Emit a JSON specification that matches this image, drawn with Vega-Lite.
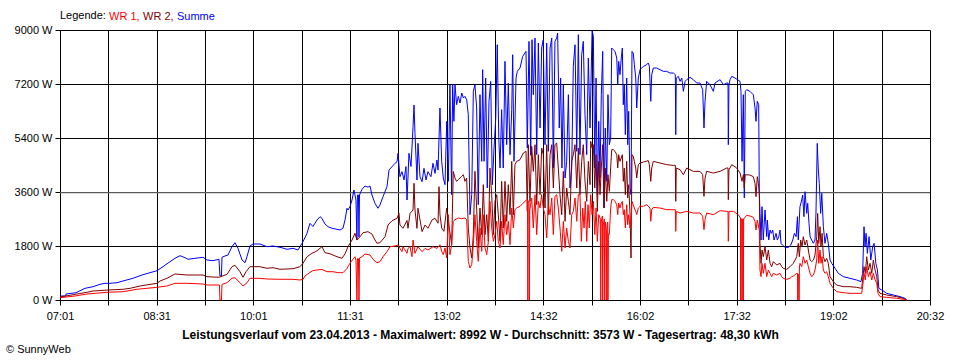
{
  "$schema": "https://vega.github.io/schema/vega-lite/v6.json",
  "width": 870,
  "height": 270,
  "autosize": {"type": "none"},
  "padding": {"left": 60, "top": 30, "right": 30, "bottom": 60},
  "background": "white",
  "title": {"text": "© SunnyWeb", "orient": "bottom", "anchor": "start", "frame": "group", "dx": -54, "offset": 4, "fontSize": 11, "fontWeight": "normal", "font": "Liberation Sans", "color": "black"},
  "config": {
    "view": {"stroke": null},
    "axis": {"gridColor": "black", "gridOpacity": 1, "gridWidth": 1, "domainColor": "black", "tickColor": "black", "tickSize": 5, "labelColor": "black", "labelFont": "Liberation Sans", "labelFontSize": 11, "labelPadding": 3}
  },
  "datasets": {
    "wr1": [
      {"m":421,"w":77},{"m":435,"w":133},{"m":446.2,"w":200},{"m":464.8,"w":257},{"m":479.7,"w":277},{"m":492.8,"w":357},{"m":511.4,"w":423},{"m":520.7,"w":467},{"m":528.2,"w":556},{"m":539.4,"w":556},{"m":554.3,"w":533},{"m":558,"w":500},{"m":569.6,"w":500},{"m":570.1,"w":0},{"m":571.5,"w":0},{"m":572,"w":520},{"m":576.7,"w":577},{"m":581.3,"w":723},{"m":584.1,"w":743},{"m":588.8,"w":577},{"m":591.6,"w":467},{"m":595.3,"w":577},{"m":598.1,"w":723},{"m":607.4,"w":723},{"m":614,"w":700},{"m":626.1,"w":690},{"m":638.2,"w":690},{"m":644.7,"w":667},{"m":647.5,"w":690},{"m":649.4,"w":800},{"m":651.3,"w":850},{"m":654,"w":920},{"m":656.8,"w":980},{"m":660.6,"w":1000},{"m":665.2,"w":1020},{"m":669.9,"w":943},{"m":675.5,"w":943},{"m":680.1,"w":910},{"m":684.8,"w":910},{"m":688.5,"w":1050},{"m":691.3,"w":1223},{"m":694.1,"w":1357},{"m":696,"w":1443},{"m":696.9,"w":1330},{"m":697.8,"w":0},{"m":698.3,"w":1380},{"m":699.2,"w":1380},{"m":699.7,"w":0},{"m":700.2,"w":1400},{"m":702.5,"w":1443},{"m":705.3,"w":1533},{"m":710,"w":1500},{"m":712.8,"w":1357},{"m":716.5,"w":1243},{"m":719.3,"w":1277},{"m":722.1,"w":1443},{"m":725.8,"w":1610},{"m":728.6,"w":1777},{"m":733.3,"w":1800},{"m":736.1,"w":1833},{"m":737.9,"w":1720},{"m":739.8,"w":1610},{"m":740.7,"w":1777},{"m":744.5,"w":1557},{"m":745.4,"w":1720},{"m":747.3,"w":1777},{"m":749.1,"w":1443},{"m":750.1,"w":2000},{"m":751.9,"w":1557},{"m":754.7,"w":1777},{"m":758.5,"w":1610},{"m":761.3,"w":1720},{"m":764,"w":1667},{"m":768.7,"w":1777},{"m":772.4,"w":1720},{"m":775.2,"w":1844},{"m":776.8,"w":1622},{"m":778.3,"w":1511},{"m":779.9,"w":1733},{"m":781.5,"w":1400},{"m":783,"w":2844},{"m":784.5,"w":1511},{"m":786.1,"w":1844},{"m":787.6,"w":2622},{"m":789.2,"w":2678},{"m":792.3,"w":2733},{"m":795.5,"w":2711},{"m":798.5,"w":2733},{"m":800.1,"w":2678},{"m":801.6,"w":1289},{"m":803.2,"w":1066},{"m":804.8,"w":1178},{"m":806.3,"w":1844},{"m":807.8,"w":2844},{"m":809.4,"w":1955},{"m":810.9,"w":1289},{"m":812.5,"w":2400},{"m":814.1,"w":1622},{"m":815.6,"w":2844},{"m":817.2,"w":1733},{"m":818.8,"w":1511},{"m":820.3,"w":1955},{"m":821.8,"w":3288},{"m":823.4,"w":2400},{"m":825,"w":1955},{"m":826.5,"w":2178},{"m":828.1,"w":2622},{"m":829.6,"w":1955},{"m":831.2,"w":1733},{"m":832.7,"w":2622},{"m":834.2,"w":1844},{"m":835.8,"w":2844},{"m":837.4,"w":2178},{"m":838.9,"w":2622},{"m":840.5,"w":1844},{"m":842.1,"w":3066},{"m":843.6,"w":2400},{"m":845.1,"w":3011},{"m":846.7,"w":3066},{"m":849.8,"w":3122},{"m":852.9,"w":3233},{"m":856,"w":3344},{"m":856.8,"w":3344},{"m":857.1,"w":0},{"m":857.4,"w":3300},{"m":858.3,"w":3300},{"m":858.5,"w":0},{"m":858.9,"w":3000},{"m":860.7,"w":3400},{"m":862.2,"w":2400},{"m":863.8,"w":3511},{"m":865.4,"w":2178},{"m":866.9,"w":3288},{"m":868.5,"w":3066},{"m":870,"w":3511},{"m":871.5,"w":3066},{"m":873.1,"w":2844},{"m":874.7,"w":2066},{"m":876.2,"w":3178},{"m":877.8,"w":2844},{"m":879.4,"w":3400},{"m":880.9,"w":2178},{"m":882.4,"w":3455},{"m":884,"w":3511},{"m":885.5,"w":3066},{"m":887.1,"w":2400},{"m":888.7,"w":1622},{"m":890.2,"w":2622},{"m":891.8,"w":1733},{"m":893.3,"w":2400},{"m":894.9,"w":1955},{"m":896.4,"w":1733},{"m":898,"w":2844},{"m":899.5,"w":2955},{"m":901.1,"w":3400},{"m":902.7,"w":2622},{"m":904.2,"w":3511},{"m":905.7,"w":3511},{"m":907,"w":1955},{"m":908.3,"w":3066},{"m":909.5,"w":2400},{"m":910.7,"w":3288},{"m":912,"w":1955},{"m":913.2,"w":3178},{"m":914.4,"w":2400},{"m":915.7,"w":3511},{"m":917,"w":2844},{"m":918.2,"w":3288},{"m":919.5,"w":2178},{"m":920.7,"w":3066},{"m":921.9,"w":1955},{"m":923.2,"w":2844},{"m":924.7,"w":2700},{"m":925.1,"w":0},{"m":925.5,"w":2600},{"m":926.6,"w":2800},{"m":926.9,"w":0},{"m":927.4,"w":2500},{"m":928.4,"w":2700},{"m":928.8,"w":0},{"m":929.3,"w":2600},{"m":930.3,"w":2300},{"m":930.7,"w":0},{"m":931,"w":2500},{"m":931.6,"w":2600},{"m":931.8,"w":0},{"m":932.2,"w":2200},{"m":933.1,"w":2178},{"m":934.3,"w":3066},{"m":935.3,"w":3344},{"m":936.8,"w":3344},{"m":938.4,"w":3288},{"m":940,"w":3178},{"m":940.9,"w":2844},{"m":941.8,"w":3233},{"m":943,"w":3066},{"m":944.2,"w":3233},{"m":945.2,"w":3288},{"m":946.1,"w":2844},{"m":947,"w":3011},{"m":948,"w":2400},{"m":949.3,"w":3178},{"m":950.2,"w":2511},{"m":951.1,"w":2844},{"m":952.4,"w":2400},{"m":953.3,"w":2622},{"m":954.2,"w":3288},{"m":955.4,"w":3178},{"m":956.4,"w":3066},{"m":957.7,"w":2955},{"m":958.6,"w":2844},{"m":960.1,"w":3066},{"m":961.7,"w":3122},{"m":964.8,"w":3122},{"m":967.9,"w":3178},{"m":971,"w":3066},{"m":971.7,"w":2622},{"m":972.6,"w":3011},{"m":974.1,"w":3088},{"m":980.3,"w":3066},{"m":986.6,"w":3011},{"m":992.7,"w":3011},{"m":994.6,"w":3011},{"m":995,"w":2289},{"m":995.5,"w":2955},{"m":999,"w":2900},{"m":1005.2,"w":2955},{"m":1011.4,"w":2900},{"m":1017.6,"w":2900},{"m":1020.1,"w":2789},{"m":1021.3,"w":2344},{"m":1022.3,"w":2678},{"m":1023.8,"w":2900},{"m":1030,"w":2844},{"m":1036.3,"w":2978},{"m":1042.5,"w":2955},{"m":1043.7,"w":2955},{"m":1044,"w":1955},{"m":1044.6,"w":2955},{"m":1048.7,"w":2955},{"m":1053.3,"w":2844},{"m":1055.4,"w":2733},{"m":1055.5,"w":0},{"m":1055.9,"w":2700},{"m":1056.6,"w":2700},{"m":1056.8,"w":0},{"m":1057.1,"w":2700},{"m":1057.8,"w":2700},{"m":1058,"w":0},{"m":1058.3,"w":2700},{"m":1061.1,"w":2822},{"m":1064.2,"w":2800},{"m":1067.3,"w":2755},{"m":1068.9,"w":2611},{"m":1069.8,"w":2333},{"m":1071,"w":2666},{"m":1072.9,"w":2333},{"m":1073.5,"w":1000},{"m":1074.5,"w":778},{"m":1075.4,"w":1222},{"m":1076.6,"w":889},{"m":1078.2,"w":1222},{"m":1079.8,"w":778},{"m":1081.3,"w":1000},{"m":1082.9,"w":889},{"m":1084.4,"w":778},{"m":1086,"w":889},{"m":1089.1,"w":833},{"m":1092.2,"w":889},{"m":1093.8,"w":778},{"m":1095.3,"w":722},{"m":1098.5,"w":689},{"m":1101.5,"w":722},{"m":1103.1,"w":778},{"m":1104.6,"w":800},{"m":1107.8,"w":889},{"m":1108.5,"w":889},{"m":1108.7,"w":0},{"m":1109.2,"w":850},{"m":1109.7,"w":850},{"m":1109.9,"w":0},{"m":1110.3,"w":1100},{"m":1110.8,"w":1222},{"m":1112.4,"w":1111},{"m":1113.9,"w":1444},{"m":1115.5,"w":1222},{"m":1117.1,"w":1333},{"m":1118.6,"w":1111},{"m":1120.2,"w":889},{"m":1121.7,"w":778},{"m":1123.3,"w":833},{"m":1124.8,"w":1000},{"m":1126.4,"w":1333},{"m":1127.3,"w":2000},{"m":1128.3,"w":1222},{"m":1129.5,"w":1666},{"m":1130.4,"w":1222},{"m":1131.4,"w":1444},{"m":1132.6,"w":1000},{"m":1134.1,"w":889},{"m":1135.7,"w":944},{"m":1137.2,"w":778},{"m":1138.8,"w":555},{"m":1141.9,"w":389},{"m":1145,"w":278},{"m":1151.2,"w":244},{"m":1157.4,"w":222},{"m":1168.3,"w":222},{"m":1169.2,"w":444},{"m":1170.5,"w":889},{"m":1171.7,"w":667},{"m":1173,"w":1111},{"m":1174.5,"w":778},{"m":1176.1,"w":944},{"m":1177.7,"w":667},{"m":1179.2,"w":889},{"m":1180.8,"w":667},{"m":1182.4,"w":555},{"m":1183.5,"w":222},{"m":1185.4,"w":111},{"m":1191.6,"w":89},{"m":1200.9,"w":56},{"m":1207.1,"w":22},{"m":1210.3,"w":0}
    ],
    "wr2": [
      {"m":421,"w":110},{"m":426.6,"w":133},{"m":436.8,"w":200},{"m":446.2,"w":257},{"m":451.8,"w":300},{"m":465.7,"w":333},{"m":479.7,"w":357},{"m":486.3,"w":390},{"m":495.6,"w":467},{"m":511.4,"w":556},{"m":514.2,"w":633},{"m":520.7,"w":723},{"m":528.2,"w":867},{"m":539.4,"w":833},{"m":554.3,"w":833},{"m":558,"w":777},{"m":569.2,"w":757},{"m":576.7,"w":855},{"m":581.3,"w":1110},{"m":584.1,"w":1157},{"m":588.8,"w":943},{"m":591.6,"w":757},{"m":594.4,"w":943},{"m":598.1,"w":1110},{"m":607.4,"w":1110},{"m":614,"w":1057},{"m":619.6,"w":1077},{"m":626.1,"w":1023},{"m":638.2,"w":1043},{"m":644.7,"w":1110},{"m":647.5,"w":1223},{"m":651.3,"w":1443},{"m":655.9,"w":1557},{"m":658.7,"w":1600},{"m":661.5,"w":1667},{"m":665.2,"w":1777},{"m":668,"w":1577},{"m":672.7,"w":1540},{"m":679.2,"w":1443},{"m":683.9,"w":1390},{"m":686.7,"w":1540},{"m":689.5,"w":1777},{"m":693.2,"w":2000},{"m":696,"w":2223},{"m":697.8,"w":2000},{"m":700.7,"w":2110},{"m":703.5,"w":2243},{"m":708.1,"w":2277},{"m":711.8,"w":2200},{"m":714.6,"w":2000},{"m":716.5,"w":1890},{"m":719.3,"w":1910},{"m":724,"w":2110},{"m":726.8,"w":2500},{"m":730.5,"w":2643},{"m":735.2,"w":2723},{"m":737,"w":2890},{"m":737.9,"w":2500},{"m":740.7,"w":2390},{"m":744.5,"w":2650},{"m":745.4,"w":2390},{"m":747.3,"w":2890},{"m":750.1,"w":3000},{"m":751,"w":3890},{"m":751.9,"w":3000},{"m":753.8,"w":2390},{"m":754.7,"w":3060},{"m":758.5,"w":2280},{"m":761.3,"w":2500},{"m":764,"w":2390},{"m":767.8,"w":2670},{"m":770.6,"w":2723},{"m":773.4,"w":2560},{"m":774.3,"w":3777},{"m":775.2,"w":2844},{"m":776.8,"w":2400},{"m":778.9,"w":2289},{"m":781.5,"w":3066},{"m":783.9,"w":2400},{"m":786.1,"w":1844},{"m":787.6,"w":4288},{"m":789.2,"w":4066},{"m":790.7,"w":3955},{"m":792.3,"w":4011},{"m":795.5,"w":4122},{"m":797,"w":4177},{"m":798.5,"w":3955},{"m":800.1,"w":4066},{"m":801.6,"w":2400},{"m":803.2,"w":1733},{"m":804.8,"w":1400},{"m":806.3,"w":2178},{"m":807.8,"w":4288},{"m":809.4,"w":3066},{"m":810.9,"w":1733},{"m":812.5,"w":3066},{"m":814.1,"w":2178},{"m":815.6,"w":3844},{"m":817.2,"w":2178},{"m":818.8,"w":2844},{"m":820.3,"w":1955},{"m":821.8,"w":4400},{"m":823.4,"w":3511},{"m":825,"w":2178},{"m":826.5,"w":3288},{"m":828.1,"w":3511},{"m":829.6,"w":2844},{"m":831.2,"w":1955},{"m":832.7,"w":3955},{"m":834.2,"w":2400},{"m":835.8,"w":3955},{"m":837.4,"w":2622},{"m":838.9,"w":3844},{"m":840.5,"w":2844},{"m":842.1,"w":4622},{"m":843.6,"w":2844},{"m":845.1,"w":4511},{"m":846.7,"w":4622},{"m":849.8,"w":4677},{"m":852.9,"w":4900},{"m":855.4,"w":4955},{"m":856.6,"w":2955},{"m":857.5,"w":5177},{"m":859.1,"w":3288},{"m":860.7,"w":5122},{"m":862.2,"w":4288},{"m":863.8,"w":5177},{"m":865.4,"w":3178},{"m":866.9,"w":4844},{"m":868.5,"w":3511},{"m":870,"w":5066},{"m":871.5,"w":4844},{"m":873.1,"w":3066},{"m":874.7,"w":5177},{"m":876.2,"w":2844},{"m":877.8,"w":4844},{"m":879.4,"w":5177},{"m":880.9,"w":3733},{"m":882.4,"w":5177},{"m":884,"w":5233},{"m":885.5,"w":4400},{"m":887.1,"w":3511},{"m":888.7,"w":2844},{"m":890.2,"w":4288},{"m":891.8,"w":2622},{"m":893.3,"w":3733},{"m":894.9,"w":3288},{"m":896.4,"w":2844},{"m":898,"w":4622},{"m":899.5,"w":4844},{"m":901.1,"w":5177},{"m":902.7,"w":3733},{"m":904.2,"w":5066},{"m":905.7,"w":3511},{"m":907.3,"w":4622},{"m":908.8,"w":5177},{"m":910.4,"w":3955},{"m":912,"w":3288},{"m":913.5,"w":4622},{"m":915.1,"w":3844},{"m":915.7,"w":5288},{"m":917,"w":5066},{"m":918.2,"w":5177},{"m":919.5,"w":3733},{"m":920.7,"w":4844},{"m":921.9,"w":2955},{"m":923.2,"w":4622},{"m":924.4,"w":3511},{"m":925.6,"w":4400},{"m":926.9,"w":5177},{"m":928.1,"w":3066},{"m":929.3,"w":4400},{"m":930.7,"w":3288},{"m":931.8,"w":4177},{"m":933.1,"w":3622},{"m":934.3,"w":4400},{"m":935.3,"w":5011},{"m":936.8,"w":5011},{"m":938.4,"w":4955},{"m":940,"w":4844},{"m":940.9,"w":4400},{"m":941.8,"w":4844},{"m":943,"w":4622},{"m":944.2,"w":4733},{"m":945.2,"w":4844},{"m":946.1,"w":3955},{"m":947,"w":4400},{"m":948,"w":3511},{"m":949.3,"w":4622},{"m":950.2,"w":3400},{"m":951.1,"w":3844},{"m":952.4,"w":2844},{"m":953.3,"w":1400},{"m":954.2,"w":4844},{"m":955.4,"w":4788},{"m":956.4,"w":4622},{"m":957.7,"w":4400},{"m":958.6,"w":4066},{"m":960.1,"w":4511},{"m":961.7,"w":4566},{"m":964.8,"w":4600},{"m":969.4,"w":4644},{"m":970.4,"w":4511},{"m":971.7,"w":3955},{"m":972.6,"w":4400},{"m":974.1,"w":4622},{"m":980.3,"w":4566},{"m":986.6,"w":4511},{"m":992.7,"w":4488},{"m":994.6,"w":4488},{"m":995,"w":3288},{"m":995.5,"w":4400},{"m":999,"w":4344},{"m":1002.1,"w":4177},{"m":1005.2,"w":4400},{"m":1011.4,"w":4288},{"m":1017.6,"w":4288},{"m":1020.1,"w":4177},{"m":1021.3,"w":3455},{"m":1022.3,"w":4066},{"m":1023.8,"w":4288},{"m":1030,"w":4233},{"m":1036.3,"w":4288},{"m":1042.5,"w":4400},{"m":1043.7,"w":4400},{"m":1044,"w":3344},{"m":1044.6,"w":4344},{"m":1047.2,"w":4511},{"m":1051.8,"w":4400},{"m":1054.9,"w":4233},{"m":1056.8,"w":3955},{"m":1058,"w":4177},{"m":1058.9,"w":3733},{"m":1059.8,"w":4177},{"m":1064.2,"w":4166},{"m":1067.3,"w":4111},{"m":1068.9,"w":3889},{"m":1069.8,"w":3444},{"m":1071,"w":4111},{"m":1072,"w":3889},{"m":1072.9,"w":3555},{"m":1073.5,"w":1889},{"m":1074.5,"w":1222},{"m":1075.4,"w":1666},{"m":1076.6,"w":1444},{"m":1078.2,"w":1778},{"m":1079.8,"w":1333},{"m":1081.3,"w":1666},{"m":1082.9,"w":1222},{"m":1084.4,"w":1111},{"m":1086,"w":1278},{"m":1089.1,"w":1166},{"m":1092.2,"w":1222},{"m":1093.8,"w":1111},{"m":1095.3,"w":1055},{"m":1098.5,"w":1022},{"m":1101.5,"w":1111},{"m":1104.6,"w":1222},{"m":1107.8,"w":1444},{"m":1109.2,"w":1889},{"m":1110.2,"w":1444},{"m":1111.5,"w":2000},{"m":1112.7,"w":1778},{"m":1113.9,"w":2111},{"m":1115.5,"w":1833},{"m":1117.1,"w":2000},{"m":1118.6,"w":1666},{"m":1120.2,"w":1333},{"m":1121.7,"w":1278},{"m":1123.3,"w":1333},{"m":1124.8,"w":1500},{"m":1126.4,"w":2111},{"m":1127.3,"w":2888},{"m":1128.3,"w":1889},{"m":1129.5,"w":2444},{"m":1130.4,"w":1778},{"m":1131.4,"w":2222},{"m":1132.6,"w":1444},{"m":1134.1,"w":1278},{"m":1135.7,"w":1389},{"m":1137.2,"w":1222},{"m":1138.8,"w":778},{"m":1141.9,"w":611},{"m":1145,"w":500},{"m":1151.2,"w":444},{"m":1157.4,"w":444},{"m":1163.6,"w":422},{"m":1168.3,"w":389},{"m":1169.2,"w":667},{"m":1170.5,"w":1111},{"m":1171.7,"w":889},{"m":1173,"w":1444},{"m":1174.5,"w":1000},{"m":1176.1,"w":1222},{"m":1177.7,"w":889},{"m":1179.2,"w":1333},{"m":1180.8,"w":1000},{"m":1182.4,"w":778},{"m":1183.5,"w":333},{"m":1185.4,"w":222},{"m":1191.6,"w":167},{"m":1200.9,"w":111},{"m":1207.1,"w":56},{"m":1210.3,"w":0}
    ],
    "summe": [
      {"m":421,"w":133},{"m":426.5,"w":133},{"m":426.6,"w":200},{"m":435.9,"w":243},{"m":444.3,"w":390},{"m":451.8,"w":443},{"m":458.3,"w":523},{"m":463,"w":556},{"m":467.6,"w":556},{"m":474.1,"w":577},{"m":479.7,"w":633},{"m":489,"w":723},{"m":497.4,"w":833},{"m":504.9,"w":910},{"m":511.4,"w":977},{"m":517,"w":1110},{"m":523.5,"w":1277},{"m":528.2,"w":1390},{"m":532.9,"w":1477},{"m":537.5,"w":1410},{"m":540.3,"w":1357},{"m":546.8,"w":1390},{"m":554.3,"w":1423},{"m":558,"w":1333},{"m":563.6,"w":1310},{"m":569.2,"w":1357},{"m":570.1,"w":800},{"m":571.5,"w":800},{"m":572,"w":1423},{"m":574.8,"w":1467},{"m":577.6,"w":1500},{"m":581.3,"w":1777},{"m":584.1,"w":1910},{"m":586.9,"w":1723},{"m":590.7,"w":1333},{"m":593.5,"w":1243},{"m":595.3,"w":1443},{"m":598.1,"w":1800},{"m":600.9,"w":1867},{"m":607.4,"w":1867},{"m":614,"w":1777},{"m":619.6,"w":1800},{"m":626.1,"w":1757},{"m":632.6,"w":1690},{"m":638.2,"w":1723},{"m":642.9,"w":1667},{"m":644.7,"w":1777},{"m":647.5,"w":1943},{"m":651.3,"w":2223},{"m":654,"w":2556},{"m":656.8,"w":2450},{"m":660.6,"w":2667},{"m":663.4,"w":2777},{"m":665.2,"w":2720},{"m":668,"w":2533},{"m":670.8,"w":2443},{"m":674.6,"w":2390},{"m":677.4,"w":2370},{"m":682,"w":2333},{"m":684.8,"w":2390},{"m":686.7,"w":2667},{"m":688.5,"w":3057},{"m":689.5,"w":3000},{"m":691.3,"w":3110},{"m":693.2,"w":3333},{"m":694.1,"w":3500},{"m":695,"w":3667},{"m":696.9,"w":3333},{"m":697.8,"w":2000},{"m":698.3,"w":3500},{"m":699.2,"w":3500},{"m":699.7,"w":2100},{"m":700.2,"w":3500},{"m":702.5,"w":3690},{"m":705.3,"w":3800},{"m":708.1,"w":3760},{"m":710,"w":3800},{"m":711.8,"w":3500},{"m":714.6,"w":3223},{"m":717.4,"w":3057},{"m":719.3,"w":3170},{"m":722.1,"w":3443},{"m":725.8,"w":3777},{"m":727.7,"w":4333},{"m":730.5,"w":4443},{"m":733.3,"w":4557},{"m":735.2,"w":4610},{"m":736.1,"w":4890},{"m":737.9,"w":4110},{"m":739.8,"w":4280},{"m":741.7,"w":4000},{"m":743.5,"w":4450},{"m":744.5,"w":3333},{"m":746.3,"w":4890},{"m":748.2,"w":4450},{"m":750.1,"w":5777},{"m":751,"w":6500},{"m":751.9,"w":5550},{"m":753.8,"w":4000},{"m":754.7,"w":5223},{"m":756.6,"w":4110},{"m":758.5,"w":3943},{"m":760.3,"w":4390},{"m":762.2,"w":4000},{"m":764,"w":4277},{"m":766.8,"w":4110},{"m":768.7,"w":4557},{"m":770.6,"w":4220},{"m":772.4,"w":4667},{"m":773.4,"w":4330},{"m":775.2,"w":6400},{"m":776.8,"w":4622},{"m":778.3,"w":4066},{"m":779.9,"w":3844},{"m":781.5,"w":5955},{"m":783,"w":3955},{"m":784.5,"w":7177},{"m":786.1,"w":3511},{"m":787,"w":7177},{"m":788.2,"w":5955},{"m":789.2,"w":7177},{"m":790.7,"w":6510},{"m":792.3,"w":6788},{"m":793.9,"w":6566},{"m":795.5,"w":6900},{"m":797,"w":6733},{"m":798.5,"w":6788},{"m":800.1,"w":6677},{"m":801.6,"w":6177},{"m":803.2,"w":2844},{"m":804.8,"w":3511},{"m":806.3,"w":6955},{"m":807.8,"w":7177},{"m":809.4,"w":6400},{"m":810.9,"w":3178},{"m":812.5,"w":6844},{"m":814.1,"w":4622},{"m":815,"w":7677},{"m":816.3,"w":4622},{"m":817.8,"w":7400},{"m":819.3,"w":3733},{"m":820.9,"w":6622},{"m":822.5,"w":7288},{"m":824,"w":3844},{"m":825.6,"w":5066},{"m":827.2,"w":6066},{"m":828.6,"w":8510},{"m":830,"w":5400},{"m":831.2,"w":4400},{"m":832.7,"w":6344},{"m":834.2,"w":4400},{"m":835.8,"w":7955},{"m":837.4,"w":5177},{"m":838.9,"w":7233},{"m":840.5,"w":4844},{"m":842.1,"w":6344},{"m":843,"w":8177},{"m":844.2,"w":4622},{"m":846.1,"w":7400},{"m":847.3,"w":7622},{"m":849.8,"w":7733},{"m":852.3,"w":8121},{"m":855.4,"w":8288},{"m":856.6,"w":5066},{"m":858.2,"w":8621},{"m":859.8,"w":4822},{"m":861,"w":8677},{"m":862.2,"w":6844},{"m":863.8,"w":8732},{"m":865.4,"w":4844},{"m":866.9,"w":8566},{"m":868.5,"w":5733},{"m":870,"w":8400},{"m":871.5,"w":8677},{"m":873.1,"w":5177},{"m":874.7,"w":8566},{"m":876.2,"w":4955},{"m":877.8,"w":8400},{"m":879.4,"w":8732},{"m":880.9,"w":4400},{"m":882.4,"w":8621},{"m":884,"w":8732},{"m":884.9,"w":8900},{"m":886.4,"w":5733},{"m":887.7,"w":7400},{"m":888.9,"w":4400},{"m":890.2,"w":7177},{"m":891.8,"w":4066},{"m":893.3,"w":4622},{"m":894.9,"w":6844},{"m":896.4,"w":3733},{"m":898,"w":4400},{"m":899.5,"w":7788},{"m":901.1,"w":8510},{"m":902.7,"w":4955},{"m":904.2,"w":8844},{"m":905.7,"w":4844},{"m":907.3,"w":8177},{"m":908.8,"w":8621},{"m":910.4,"w":6177},{"m":912,"w":4844},{"m":913.5,"w":8066},{"m":915.1,"w":5733},{"m":917,"w":8992},{"m":918.2,"w":8788},{"m":919.5,"w":4400},{"m":920.7,"w":7400},{"m":921.9,"w":3511},{"m":923.2,"w":5955},{"m":924.4,"w":4066},{"m":925.6,"w":6844},{"m":926.9,"w":8288},{"m":928.1,"w":3066},{"m":929.3,"w":5733},{"m":930.7,"w":3955},{"m":931.8,"w":6844},{"m":933.1,"w":5177},{"m":934.3,"w":5400},{"m":935.3,"w":8400},{"m":936.8,"w":8344},{"m":938.4,"w":8288},{"m":940,"w":8066},{"m":940.9,"w":7177},{"m":941.8,"w":7955},{"m":943,"w":7511},{"m":944.2,"w":8066},{"m":945.2,"w":8400},{"m":946.1,"w":6510},{"m":947,"w":7177},{"m":948,"w":5511},{"m":949.3,"w":7400},{"m":950.2,"w":5177},{"m":951.1,"w":6288},{"m":952.4,"w":3733},{"m":953.3,"w":3511},{"m":954.2,"w":8288},{"m":955.4,"w":8232},{"m":956.4,"w":7844},{"m":957.7,"w":7400},{"m":958.6,"w":6400},{"m":960.1,"w":7400},{"m":961.7,"w":7677},{"m":964.8,"w":7788},{"m":967.9,"w":7844},{"m":969.4,"w":7900},{"m":970.4,"w":7788},{"m":971.7,"w":6622},{"m":972.6,"w":7511},{"m":974.1,"w":7733},{"m":977.2,"w":7733},{"m":980.3,"w":7677},{"m":983.4,"w":7622},{"m":986.6,"w":7622},{"m":989.6,"w":7566},{"m":992.7,"w":7566},{"m":994.6,"w":7511},{"m":995,"w":5511},{"m":995.5,"w":7400},{"m":997.4,"w":7455},{"m":999,"w":7288},{"m":1000.6,"w":7400},{"m":1002.1,"w":6955},{"m":1003.7,"w":7288},{"m":1005.2,"w":7344},{"m":1008.3,"w":7422},{"m":1011.4,"w":7344},{"m":1014.5,"w":7233},{"m":1017.6,"w":7233},{"m":1020.1,"w":7011},{"m":1021.3,"w":5733},{"m":1022.3,"w":6622},{"m":1023.8,"w":7288},{"m":1026.9,"w":7177},{"m":1030,"w":6955},{"m":1031.6,"w":7233},{"m":1036.3,"w":7344},{"m":1039.4,"w":7177},{"m":1042.5,"w":7233},{"m":1043.7,"w":7233},{"m":1044,"w":5177},{"m":1044.6,"w":7177},{"m":1045.6,"w":7344},{"m":1047.2,"w":7455},{"m":1050.2,"w":7400},{"m":1054.9,"w":7288},{"m":1055.8,"w":6955},{"m":1056.8,"w":4622},{"m":1058,"w":6844},{"m":1058.9,"w":3400},{"m":1059.8,"w":6955},{"m":1061.1,"w":7011},{"m":1064.2,"w":6955},{"m":1067.3,"w":6844},{"m":1068.9,"w":6400},{"m":1069.8,"w":5955},{"m":1071,"w":6622},{"m":1072.3,"w":6510},{"m":1072.9,"w":3555},{"m":1073.5,"w":2888},{"m":1074.5,"w":2000},{"m":1075.4,"w":3111},{"m":1076.6,"w":2000},{"m":1078.2,"w":3000},{"m":1079.8,"w":2111},{"m":1080.4,"w":2666},{"m":1081.7,"w":2000},{"m":1082.9,"w":2333},{"m":1084.1,"w":2222},{"m":1085.4,"w":2333},{"m":1086.6,"w":2000},{"m":1088.5,"w":2222},{"m":1089.7,"w":2000},{"m":1091,"w":2111},{"m":1092.2,"w":2333},{"m":1093.1,"w":1889},{"m":1094.4,"w":1833},{"m":1096.9,"w":1755},{"m":1100,"w":1755},{"m":1102.2,"w":1833},{"m":1104.1,"w":2000},{"m":1105.6,"w":2222},{"m":1107.2,"w":2111},{"m":1108.4,"w":2778},{"m":1109.2,"w":2000},{"m":1110.8,"w":3111},{"m":1112.4,"w":3333},{"m":1113.3,"w":3500},{"m":1114.5,"w":2778},{"m":1115.5,"w":3611},{"m":1117.1,"w":2888},{"m":1118,"w":3222},{"m":1119.2,"w":2555},{"m":1120.2,"w":2111},{"m":1121.7,"w":2000},{"m":1123.3,"w":1889},{"m":1124.8,"w":2000},{"m":1125.7,"w":2888},{"m":1126.9,"w":5222},{"m":1127.9,"w":4333},{"m":1128.8,"w":3889},{"m":1130.1,"w":2888},{"m":1131.1,"w":3555},{"m":1132.6,"w":2444},{"m":1134.1,"w":1889},{"m":1135.7,"w":2222},{"m":1137.2,"w":1889},{"m":1138.8,"w":1333},{"m":1140.4,"w":1222},{"m":1143.5,"w":1055},{"m":1146.6,"w":889},{"m":1151.2,"w":778},{"m":1157.4,"w":722},{"m":1163.6,"w":667},{"m":1167.6,"w":611},{"m":1169.2,"w":889},{"m":1170.5,"w":2444},{"m":1171.4,"w":1778},{"m":1172.4,"w":2222},{"m":1173.6,"w":1555},{"m":1175.2,"w":2111},{"m":1176.8,"w":1333},{"m":1178.6,"w":1778},{"m":1179.9,"w":1889},{"m":1181.5,"w":1222},{"m":1183,"w":1000},{"m":1184.3,"w":389},{"m":1187.1,"w":333},{"m":1191.6,"w":222},{"m":1197.8,"w":167},{"m":1204.1,"w":111},{"m":1208.7,"w":56},{"m":1210.3,"w":0}
    ]
  },
  "layer": [
    {
      "data": {"values": [{"avg": 3573}]},
      "mark": {"type": "rule", "color": "#808080", "strokeWidth": 1},
      "encoding": {"y": {"field": "avg", "type": "quantitative", "scale": {"domain": [0, 9000], "nice": false}}}
    },
    {
      "data": {"name": "summe"},
      "mark": {"type": "line", "strokeWidth": 1, "interpolate": "linear"},
      "encoding": {
        "x": {"field": "m", "type": "quantitative"},
        "y": {"field": "w", "type": "quantitative"},
        "color": {"datum": "Summe"}
      }
    },
    {
      "data": {"name": "wr2"},
      "mark": {"type": "line", "strokeWidth": 1, "interpolate": "linear"},
      "encoding": {
        "x": {"field": "m", "type": "quantitative"},
        "y": {"field": "w", "type": "quantitative"},
        "color": {"datum": "WR 2"}
      }
    },
    {
      "data": {"name": "wr1"},
      "mark": {"type": "line", "strokeWidth": 1, "interpolate": "linear"},
      "encoding": {
        "x": {
          "field": "m", "type": "quantitative",
          "scale": {"domain": [421, 1232], "nice": false, "zero": false},
          "axis": {
            "title": "Leistungsverlauf vom 23.04.2013 - Maximalwert: 8992 W - Durchschnitt: 3573 W - Tagesertrag: 48,30 kWh",
            "titleFont": "Liberation Sans", "titleFontSize": 12, "titleFontWeight": "bold", "titleColor": "black", "titlePadding": 8,
            "titleX": 420, "titleAlign": "center",
            "labelPadding": 5,
            "values": [421, 466.06, 511.11, 556.17, 601.22, 646.28, 691.33, 736.39, 781.44, 826.5, 871.56, 916.61, 961.67, 1006.72, 1051.78, 1096.83, 1141.89, 1186.94, 1232],
            "labelExpr": "['07:01','','08:31','','10:01','','11:31','','13:02','','14:32','','16:02','','17:32','','19:02','','20:32'][round((datum.value-421)/45.0556)]",
            "labelOverlap": false, "labelFlush": false
          }
        },
        "y": {
          "field": "w", "type": "quantitative",
          "scale": {"domain": [0, 9000], "nice": false},
          "axis": {"title": null, "values": [0, 1800, 3600, 5400, 7200, 9000], "labelExpr": "datum.value + ' W'", "labelOverlap": false, "labelFlush": false}
        },
        "color": {
          "datum": "WR 1",
          "scale": {"domain": ["WR 1", "WR 2", "Summe"], "range": ["#ff0000", "#800000", "#0000ff"]},
          "legend": {
            "orient": "none", "legendX": 0, "legendY": -19, "direction": "horizontal",
            "title": "Legende:", "titleOrient": "left", "titleFont": "Liberation Sans", "titleFontSize": 11, "titleFontWeight": "normal", "titleColor": "black", "titlePadding": 3,
            "labelFont": "Liberation Sans", "labelFontSize": 11, "labelOffset": -11, "columnPadding": 3,
            "symbolSize": 0, "symbolStrokeWidth": 0, "symbolOpacity": 0,
            "labelExpr": "datum.label == 'Summe' ? datum.label : datum.label + ','",
            "encode": {"labels": {"update": {"fill": {"scale": "color", "field": "value"}}}}
          }
        }
      }
    }
  ]
}
